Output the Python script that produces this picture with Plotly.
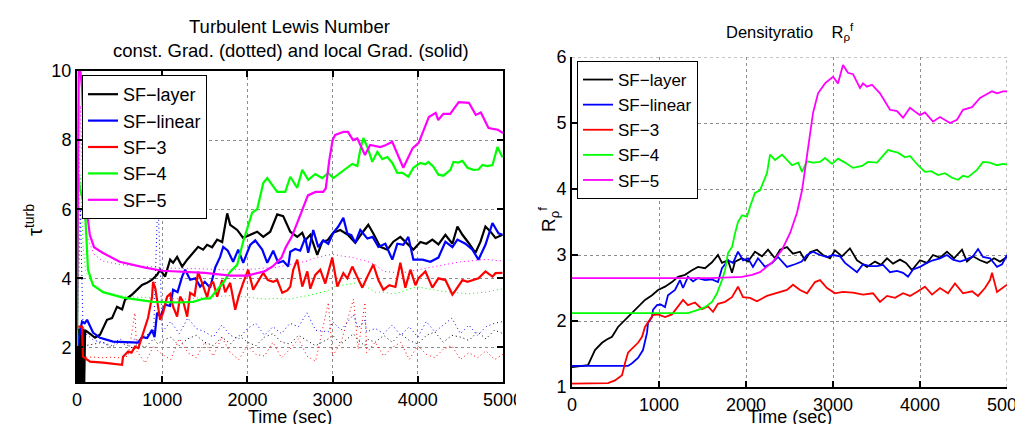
import plotly.graph_objects as go

W, H = 1015, 424
def px(x): return x / W
def py(y): return 1 - y / H

FONT = "Liberation Sans, Arial, Helvetica, sans-serif"
BLACK, BLUE, RED, GREEN, MAGENTA = "#000000", "#0000FF", "#FF0000", "#00FF00", "#FF00FF"
names = ["SF\u2212layer", "SF\u2212linear", "SF\u22123", "SF\u22124", "SF\u22125"]

# ---------------- Left panel: turbulent Lewis number (local gradient, solid) ----------------
L_layer_t = [0, 15, 25, 35, 45, 55, 65, 75, 85, 95, 150, 212, 270, 352, 411, 470, 530, 564, 646, 705, 763, 822, 881, 940, 975,
             1034, 1093, 1128, 1175, 1234, 1293, 1363, 1422, 1480, 1527, 1586, 1645, 1704, 1763, 1798, 1880, 1950, 2033, 2115,
             2186, 2268, 2350, 2420, 2503, 2585, 2644, 2680, 2738, 2820, 2879, 2940, 3008, 3090, 3184, 3266, 3349, 3419, 3478,
             3560, 3643, 3713, 3795, 3877, 3948, 4030, 4100, 4171, 4242, 4324, 4406, 4465, 4524, 4595, 4677, 4736, 4794, 4853,
             4912, 4994]
L_layer_v = [1.0, 2.55, 1.0, 2.55, 1.0, 2.55, 1.0, 2.55, 1.0, 2.5, 2.4, 2.28, 2.37, 2.8, 2.85, 3.18, 3.1, 3.38, 3.53, 3.67, 3.81,
             3.87, 3.96, 4.1, 4.25, 4.05, 4.54, 4.45, 4.62, 4.34, 4.54, 4.74, 4.91, 4.83, 4.97, 4.9, 5.12, 5.05, 5.88, 5.55, 5.4,
             5.17, 5.26, 5.35, 5.2, 5.35, 5.85, 5.8, 5.35, 5.2, 5.32, 5.1, 5.26, 4.68, 5.06, 5.1, 5.32, 5.4, 5.25, 5.03, 5.32,
             5.55, 5.3, 4.91, 4.83, 5.06, 5.2, 5.0, 4.83, 5.05, 5.0, 5.12, 4.98, 5.26, 5.0, 5.5, 5.26, 5.03, 4.74, 5.06, 5.5,
             5.35, 5.17, 5.26]

L_linear_t = [0, 30, 59, 90, 118, 188, 270, 423, 623, 717, 764, 823, 881, 910, 940, 980, 1034, 1093, 1128, 1180, 1234, 1269,
              1328, 1390, 1445, 1500, 1563, 1622, 1680, 1716, 1770, 1833, 1892, 1951, 2033, 2092, 2174, 2233, 2303, 2362, 2421,
              2479, 2503, 2562, 2620, 2679, 2714, 2773, 2832, 2890, 2949, 3008, 3067, 3126, 3173, 3220, 3267, 3325, 3408, 3470,
              3537, 3619, 3701, 3760, 3831, 3889, 3948, 4054, 4148, 4242, 4324, 4406, 4465, 4559, 4641, 4712, 4794, 4876, 4947,
              4994]
L_linear_v = [2.0, 2.4, 2.75, 2.7, 2.8, 2.43, 2.28, 2.17, 2.14, 2.14, 2.3, 2.27, 2.51, 2.3, 3.0, 2.9, 3.24, 3.2, 3.67, 3.6, 4.05,
              4.25, 3.96, 4.0, 3.76, 3.9, 3.73, 4.31, 4.62, 4.91, 4.8, 4.48, 4.83, 4.45, 4.97, 5.1, 4.83, 4.45, 4.8, 4.45, 4.5,
              4.34, 4.77, 4.85, 4.8, 5.17, 4.74, 5.4, 4.9, 5.1, 5.0, 5.32, 5.5, 5.75, 5.3, 5.25, 5.03, 5.4, 5.15, 5.2, 4.91, 5.0,
              4.54, 5.0, 4.97, 5.2, 4.54, 4.54, 4.48, 4.6, 5.06, 4.9, 5.12, 5.0, 4.83, 4.54, 4.97, 5.6, 5.3, 5.26]

L_sf3_t = [0, 59, 70, 153, 306, 529, 540, 600, 640, 681, 720, 764, 799, 834, 881, 893, 920, 952, 975, 1010, 1058, 1093, 1128,
           1175, 1210, 1250, 1293, 1328, 1380, 1422, 1469, 1528, 1560, 1598, 1645, 1704, 1740, 1798, 1857, 1900, 1951, 2009,
           2068, 2127, 2186, 2240, 2303, 2350, 2409, 2468, 2503, 2538, 2585, 2644, 2703, 2738, 2797, 2855, 2914, 2996, 3055,
           3126, 3173, 3231, 3290, 3349, 3408, 3478, 3537, 3596, 3666, 3737, 3795, 3854, 3913, 3972, 4007, 4089, 4171, 4242,
           4324, 4406, 4442, 4524, 4583, 4641, 4712, 4794, 4876, 4912, 4994]
L_sf3_v = [2.6, 2.6, 1.73, 1.59, 1.56, 1.5, 1.73, 1.88, 1.85, 2.02, 1.98, 2.31, 2.57, 2.86, 3.47, 3.9, 3.7, 3.18, 2.8, 3.0, 3.47,
           3.55, 3.18, 2.89, 3.47, 3.3, 2.89, 3.58, 3.5, 4.19, 3.85, 3.45, 3.8, 3.9, 3.47, 3.95, 3.6, 3.87, 3.09, 3.5, 3.87,
           4.25, 3.67, 3.9, 4.16, 3.95, 3.9, 3.95, 3.58, 3.65, 3.76, 4.25, 4.54, 3.76, 4.2, 3.7, 4.1, 4.25, 3.85, 4.6, 3.76,
           4.15, 4.0, 4.34, 4.05, 3.73, 4.05, 4.4, 3.95, 3.67, 3.8, 3.75, 4.45, 3.73, 4.25, 3.8, 4.0, 4.2, 3.73, 4.0, 3.95,
           3.53, 3.65, 3.95, 3.9, 3.95, 4.0, 4.2, 4.05, 4.15, 4.16]

L_sf4_t = [0, 15, 35, 94, 110, 129, 188, 306, 540, 893, 1210, 1363, 1480, 1563, 1645, 1716, 1798, 1880, 1950, 2056, 2115, 2186,
           2233, 2350, 2444, 2503, 2585, 2644, 2714, 2797, 2879, 2949, 3008, 3090, 3173, 3231, 3290, 3325, 3361, 3408, 3466,
           3525, 3584, 3643, 3701, 3760, 3819, 3889, 3948, 4030, 4089, 4124, 4183, 4242, 4301, 4383, 4418, 4477, 4524, 4583,
           4653, 4712, 4759, 4818, 4876, 4935, 4994]
L_sf4_v = [2.0, 7.0, 6.6, 6.0, 5.2, 4.25, 3.8, 3.6, 3.44, 3.32, 3.3, 3.32, 3.41, 3.42, 3.67, 3.87, 4.19, 4.39, 5.06, 5.9, 6.0,
           6.76, 6.9, 6.5, 6.5, 6.94, 6.62, 7.14, 6.85, 7.02, 6.9, 7.05, 6.9, 7.05, 7.2, 7.31, 7.25, 7.72, 8.06, 7.8, 7.37,
           7.66, 7.45, 7.51, 7.34, 7.05, 7.05, 6.94, 7.2, 7.34, 7.3, 7.37, 7.23, 7.0, 6.97, 7.14, 7.37, 7.35, 7.4, 7.2, 7.14,
           7.15, 7.28, 7.25, 7.28, 7.8, 7.5]

L_sf5_t = [0, 20, 40, 60, 80, 110, 150, 200, 300, 500, 800, 1000, 1500, 1800, 2000, 2200, 2300, 2400, 2450, 2520, 2600, 2710,
           2800, 2890, 2920, 2960, 3000, 3030, 3130, 3180, 3240, 3290, 3380, 3440, 3560, 3620, 3700, 3830, 3940, 4010, 4130,
           4210, 4240, 4300, 4380, 4480, 4600, 4680, 4740, 4830, 4940, 5000]
L_sf5_v = [2.5, 10.0, 10.0, 9.5, 8.0, 6.1, 5.26, 4.9, 4.74, 4.48, 4.31, 4.22, 4.16, 4.08, 4.08, 4.2, 4.35, 4.6, 4.9, 5.2, 5.7,
           6.4, 6.5, 6.5, 6.6, 7.4, 8.0, 8.15, 8.24, 8.24, 8.0, 8.05, 7.57, 7.86, 7.8, 7.85, 7.95, 7.2, 7.77, 7.92, 8.67, 8.79,
           8.58, 8.76, 8.76, 9.1, 9.08, 8.73, 8.8, 8.35, 8.3, 8.2]

# ---------------- Left panel: constant gradient (dotted) ----------------
D_t = [0, 40, 70, 100, 200, 300, 400, 500, 600, 680, 700, 800, 900, 950, 1000, 1100, 1200, 1300, 1400, 1500, 1600, 1700, 1800,
       1900, 2000, 2100, 2200, 2300, 2400, 2500, 2600, 2700, 2800, 2950, 3000, 3100, 3245, 3300, 3380, 3400, 3500, 3600, 3700,
       3800, 3900, 4000, 4100, 4200, 4300, 4400, 4500, 4600, 4700, 4800, 4900, 5000]
D_layer_v = [1.0, 2.0, 2.1, 2.05, 2.1, 2.15, 2.0, 2.15, 2.05, 1.95, 2.1, 2.0, 2.25, 2.1, 2.2, 2.3, 2.05, 2.25, 2.35, 2.15, 2.05,
             2.3, 2.1, 2.35, 2.15, 2.05, 2.3, 2.4, 2.15, 2.1, 2.35, 2.2, 2.05, 2.25, 2.35, 2.1, 2.4, 2.2, 2.05, 2.25, 2.15, 2.35,
             2.15, 2.4, 2.2, 2.1, 2.35, 2.45, 2.15, 2.35, 2.3, 2.2, 2.45, 2.25, 2.5, 2.4]
D_linear_v = [2.0, 6.0, 2.6, 2.4, 2.2, 2.15, 2.05, 2.25, 2.1, 2.25, 2.2, 2.35, 2.45, 6.4, 2.45, 2.75, 2.4, 2.85, 2.55, 2.45,
              2.3, 2.65, 2.35, 2.25, 2.55, 2.7, 2.35, 2.6, 2.4, 2.7, 2.6, 3.0, 2.5, 2.45, 2.75, 2.5, 2.95, 2.55, 2.8, 2.45,
              2.55, 2.4, 2.65, 2.35, 2.6, 2.3, 2.75, 2.45, 2.65, 2.85, 2.4, 2.65, 2.35, 2.6, 2.7, 2.75]
D_sf3_v = [2.5, 1.75, 1.73, 1.72, 1.72, 1.7, 1.72, 1.7, 1.75, 3.0, 1.9, 1.55, 2.05, 1.9, 1.8, 1.65, 2.25, 1.85, 1.7, 2.15,
           1.75, 2.3, 1.85, 1.65, 2.05, 1.8, 1.75, 2.15, 1.7, 1.95, 2.25, 1.75, 1.6, 3.3, 1.75, 2.15, 3.4, 1.95, 3.3, 1.85,
           2.15, 1.75, 2.0, 2.15, 1.65, 2.05, 1.8, 1.7, 1.95, 2.05, 1.65, 1.85, 1.7, 1.9, 1.65, 1.8]
D_sf4_v = [2.0, 7.0, 5.0, 4.2, 3.8, 3.6, 3.55, 3.5, 3.48, 3.45, 3.45, 3.45, 3.42, 3.4, 3.4, 3.42, 3.4, 3.4, 3.43, 3.45, 3.45,
           3.47, 3.5, 3.48, 3.45, 3.42, 3.4, 3.42, 3.4, 3.4, 3.45, 3.5, 3.55, 3.65, 3.75, 3.8, 3.85, 3.9, 3.8, 3.75, 3.6, 3.6,
           3.55, 3.6, 3.7, 3.75, 3.7, 3.65, 3.62, 3.6, 3.58, 3.55, 3.58, 3.6, 3.65, 3.7]
D_sf5_v = [2.0, 9.0, 6.5, 5.3, 4.7, 4.5, 4.45, 4.4, 4.38, 4.37, 4.36, 4.35, 4.33, 4.32, 4.3, 4.3, 4.3, 4.3, 4.28, 4.27, 4.25,
           4.25, 4.25, 4.25, 4.25, 4.27, 4.3, 4.3, 4.35, 4.4, 4.45, 4.5, 4.6, 4.68, 4.7, 4.65, 4.6, 4.55, 4.5, 4.5, 4.4, 4.2,
           4.18, 4.15, 4.2, 4.25, 4.3, 4.35, 4.4, 4.45, 4.48, 4.5, 4.52, 4.55, 4.52, 4.5]

# ---------------- Right panel: density ratio ----------------
R_layer_t = [0, 184, 264, 345, 400, 460, 529, 609, 690, 759, 839, 920, 989, 1069, 1149, 1218, 1299, 1379, 1448, 1529, 1609,
             1678, 1724, 1793, 1839, 1874, 1954, 2023, 2103, 2184, 2253, 2333, 2391, 2471, 2540, 2621, 2678, 2736, 2816, 2885,
             2966, 3023, 3103, 3195, 3276, 3391, 3483, 3552, 3621, 3690, 3770, 3839, 3908, 4000, 4080, 4149, 4230, 4310, 4391,
             4483, 4540, 4609, 4690, 4770, 4851, 4920, 5000]
R_layer_v = [1.3, 1.33, 1.56, 1.67, 1.72, 1.76, 1.91, 2.02, 2.12, 2.21, 2.32, 2.39, 2.47, 2.52, 2.59, 2.67, 2.7, 2.77, 2.82, 2.8,
             2.89, 3.0, 2.88, 2.92, 2.73, 2.9, 2.95, 2.9, 3.05, 2.98, 3.08, 2.95, 3.08, 3.12, 3.02, 3.05, 2.92, 3.04, 3.08, 3.0,
             2.95, 3.07, 2.98, 3.1, 2.92, 2.82, 2.9, 2.85, 2.95, 2.87, 2.93, 2.88, 2.77, 2.92, 2.88, 3.0, 2.96, 3.05, 2.95,
             3.08, 2.9, 2.98, 2.92, 2.88, 2.95, 2.9, 2.97]

R_linear_t = [0, 644, 690, 759, 816, 862, 874, 920, 931, 977, 1020, 1069, 1103, 1184, 1241, 1276, 1333, 1391, 1448, 1529, 1609,
              1678, 1724, 1793, 1851, 1908, 1966, 2023, 2080, 2138, 2218, 2299, 2368, 2471, 2563, 2640, 2701, 2770, 2851, 2931,
              3000, 3080, 3138, 3195, 3276, 3345, 3425, 3506, 3575, 3655, 3736, 3805, 3862, 3920, 4000, 4080, 4149, 4230, 4310,
              4379, 4460, 4529, 4609, 4667, 4724, 4805, 4885, 4943, 5000]
R_linear_v = [1.32, 1.32, 1.36, 1.44, 1.56, 1.82, 1.97, 2.06, 2.17, 2.24, 2.25, 2.21, 2.39, 2.47, 2.62, 2.5, 2.67, 2.6, 2.65,
              2.62, 2.63, 2.59, 2.8, 2.92, 2.88, 3.05, 2.92, 2.95, 2.82, 2.95, 2.82, 2.88, 2.97, 2.82, 2.86, 2.9, 3.0, 3.05,
              3.0, 2.97, 3.0, 2.98, 2.88, 2.82, 2.74, 2.86, 2.83, 2.83, 2.85, 2.74, 2.76, 2.73, 2.67, 2.78, 2.82, 2.88, 2.92,
              2.95, 3.0, 2.93, 2.9, 2.93, 2.98, 3.09, 2.97, 2.95, 2.82, 2.86, 3.0]

R_sf3_t = [0, 414, 494, 575, 609, 644, 690, 759, 805, 839, 874, 931, 989, 1069, 1149, 1218, 1276, 1333, 1414, 1494, 1563, 1621,
           1678, 1759, 1839, 1908, 1966, 2046, 2126, 2241, 2356, 2471, 2540, 2621, 2701, 2793, 2851, 2931, 3023, 3115, 3230,
           3345, 3460, 3540, 3621, 3713, 3805, 3885, 3977, 4057, 4138, 4230, 4322, 4402, 4494, 4598, 4667, 4747, 4805, 4828,
           4885, 4943, 5000]
R_sf3_v = [1.05, 1.06, 1.1, 1.18, 1.36, 1.52, 1.58, 1.67, 1.76, 1.91, 1.98, 2.09, 2.1, 2.06, 2.1, 2.21, 2.32, 2.24, 2.28, 2.18,
           2.22, 2.14, 2.26, 2.29, 2.36, 2.52, 2.36, 2.35, 2.3, 2.38, 2.42, 2.47, 2.55, 2.47, 2.42, 2.59, 2.62, 2.5, 2.42,
           2.44, 2.43, 2.4, 2.42, 2.29, 2.38, 2.35, 2.42, 2.38, 2.45, 2.52, 2.4, 2.5, 2.42, 2.57, 2.42, 2.45, 2.38, 2.5,
           2.62, 2.73, 2.44, 2.5, 2.55]

R_sf4_t = [0, 1333, 1448, 1529, 1609, 1667, 1724, 1759, 1793, 1839, 1874, 1908, 1954, 2011, 2046, 2103, 2161, 2195, 2241, 2276,
           2333, 2414, 2471, 2529, 2600, 2644, 2701, 2770, 2851, 2908, 2989, 3057, 3138, 3230, 3333, 3402, 3506, 3632, 3690,
           3747, 3828, 3885, 3977, 4057, 4130, 4207, 4287, 4368, 4437, 4494, 4552, 4655, 4724, 4805, 4885, 4954, 5000]
R_sf4_v = [2.12, 2.12, 2.17, 2.21, 2.29, 2.42, 2.62, 2.77, 3.03, 3.12, 3.33, 3.5, 3.6, 3.58, 3.73, 3.94, 3.98, 4.1, 4.24, 4.52,
           4.44, 4.52, 4.44, 4.36, 4.4, 4.26, 4.42, 4.4, 4.41, 4.47, 4.38, 4.46, 4.4, 4.32, 4.35, 4.41, 4.4, 4.59, 4.57,
           4.55, 4.48, 4.5, 4.36, 4.26, 4.27, 4.21, 4.24, 4.17, 4.14, 4.2, 4.18, 4.29, 4.41, 4.4, 4.36, 4.38, 4.37]

R_sf5_t = [0, 1600, 1954, 2069, 2161, 2218, 2310, 2414, 2506, 2586, 2644, 2678, 2713, 2736, 2770, 2828, 2908, 3000, 3057, 3115,
           3172, 3230, 3310, 3345, 3391, 3448, 3540, 3655, 3736, 3805, 3885, 3966, 4000, 4057, 4149, 4230, 4345, 4425, 4494,
           4598, 4690, 4828, 4885, 4954, 5000]
R_sf5_v = [2.65, 2.65, 2.67, 2.7, 2.74, 2.8, 2.9, 3.08, 3.33, 3.64, 3.98, 4.29, 4.64, 4.85, 5.15, 5.45, 5.6, 5.7, 5.6, 5.88,
           5.76, 5.74, 5.53, 5.6, 5.55, 5.58, 5.45, 5.2, 5.18, 5.08, 5.23, 5.15, 5.12, 5.16, 5.02, 5.09, 5.0, 5.05, 5.2, 5.24,
           5.38, 5.48, 5.45, 5.48, 5.48]

x_ticks = [0, 1000, 2000, 3000, 4000, 5000]
left_y_ticks = [2, 4, 6, 8, 10]
right_y_ticks = [1, 2, 3, 4, 5, 6]
X_MAX, RIGHT_Y_MAX = 5000, 6

colors = [BLACK, BLUE, RED, GREEN, MAGENTA]

fig = go.Figure()

# dotted (constant gradient) first, beneath the solid lines
for v, c in zip([D_layer_v, D_linear_v, D_sf3_v, D_sf4_v, D_sf5_v], colors):
    fig.add_trace(go.Scatter(x=D_t, y=v, mode="lines", line=dict(color=c, width=1, dash="1px,3px"),
                             showlegend=False, xaxis="x", yaxis="y", hoverinfo="skip"))

left_series = [(L_layer_t, L_layer_v), (L_linear_t, L_linear_v), (L_sf3_t, L_sf3_v), (L_sf4_t, L_sf4_v), (L_sf5_t, L_sf5_v)]
for (t, v), c, n in zip(left_series, colors, names):
    fig.add_trace(go.Scatter(x=t, y=v, mode="lines", name=n, line=dict(color=c, width=2.2),
                             xaxis="x", yaxis="y", legend="legend"))

right_series = [(R_layer_t, R_layer_v), (R_linear_t, R_linear_v), (R_sf3_t, R_sf3_v), (R_sf4_t, R_sf4_v), (R_sf5_t, R_sf5_v)]
for (t, v), c, n in zip(right_series, colors, names):
    fig.add_trace(go.Scatter(x=t, y=v, mode="lines", name=n, line=dict(color=c, width=1.8),
                             xaxis="x2", yaxis="y2", legend="legend2"))

GRID = "#8c8c8c"
tickfont = dict(family=FONT, size=18, color="black")
common = dict(showgrid=True, gridcolor=GRID, griddash="dot", gridwidth=1, zeroline=False, automargin=False,
              showline=True, linecolor="black", linewidth=2, ticks="inside", ticklen=6, tickwidth=1.5,
              tickcolor="black", tickfont=tickfont)

fig.update_layout(
    width=W, height=H, margin=dict(l=0, r=0, t=0, b=0, autoexpand=False),
    paper_bgcolor="white", plot_bgcolor="white",
    font=dict(family=FONT, color="black"),
    xaxis=dict(domain=[px(77), px(503)], range=[0, X_MAX], tickvals=x_ticks, ticktext=[str(v) for v in x_ticks],
               anchor="y", mirror="ticks", ticklabeloverflow="allow", **common),
    yaxis=dict(domain=[py(382), py(71)], range=[1, 10], tickvals=left_y_ticks, anchor="x", mirror="ticks", **common),
    xaxis2=dict(domain=[px(572), px(1007)], range=[0, X_MAX], tickvals=x_ticks, ticktext=[str(v) for v in x_ticks],
                anchor="y2", ticklabeloverflow="allow", **common),
    yaxis2=dict(domain=[py(387), py(57)], range=[1, RIGHT_Y_MAX], tickvals=right_y_ticks, anchor="x2",
                ticklabeloverflow="allow", **common),
    legend=dict(x=px(82), y=py(75), xanchor="left", yanchor="top", bgcolor="white", bordercolor="black",
                borderwidth=1, font=dict(family=FONT, size=18, color="black"), tracegroupgap=0, itemwidth=30),
    legend2=dict(x=px(577), y=py(61), xanchor="left", yanchor="top", bgcolor="white", bordercolor="black",
                 borderwidth=1, font=dict(family=FONT, size=17, color="black"), tracegroupgap=0, itemwidth=30),
    shapes=[
        # grid lines on the open (box-off) edges of the right panel
        dict(type="line", xref="x2", yref="y2", x0=X_MAX, x1=X_MAX, y0=1, y1=RIGHT_Y_MAX,
             line=dict(color=GRID, width=1, dash="dot"), layer="below"),
        dict(type="line", xref="x2", yref="y2", x0=0, x1=X_MAX, y0=RIGHT_Y_MAX, y1=RIGHT_Y_MAX,
             line=dict(color=GRID, width=1, dash="dot"), layer="below"),
        # the reference image is cropped just right of the left panel, cutting its last tick label
        dict(type="rect", xref="paper", yref="paper", x0=px(516), x1=px(534), y0=py(412), y1=py(386),
             fillcolor="white", line=dict(width=0), layer="above"),
    ],
    annotations=[
        dict(text="Turbulent Lewis Number", x=px(289), y=py(27), xref="paper", yref="paper", showarrow=False,
             font=dict(size=18.5, family=FONT), xanchor="center", yanchor="middle"),
        dict(text="const. Grad. (dotted) and local Grad. (solid)", x=px(291), y=py(50), xref="paper", yref="paper",
             showarrow=False, font=dict(size=18.5, family=FONT), xanchor="center", yanchor="middle"),
        dict(text="Densityratio    R<sub>\u03c1</sub><sup>f</sup>", x=px(790), y=py(32), xref="paper", yref="paper",
             showarrow=False, font=dict(size=16.5, family=FONT), xanchor="center", yanchor="middle"),
        dict(text="Time (sec)", x=px(290), y=py(417), xref="paper", yref="paper", showarrow=False,
             font=dict(size=18, family=FONT), xanchor="center", yanchor="middle"),
        dict(text="Time (sec)", x=px(790), y=py(417), xref="paper", yref="paper", showarrow=False,
             font=dict(size=18, family=FONT), xanchor="center", yanchor="middle"),
        dict(text="\u03c4<sup>turb</sup>", x=px(33), y=py(220), xref="paper", yref="paper", showarrow=False,
             textangle=-90, font=dict(size=20, family=FONT), xanchor="center", yanchor="middle"),
        dict(text="R<sub>\u03c1</sub><sup>f</sup>", x=px(548), y=py(220), xref="paper", yref="paper", showarrow=False,
             textangle=-90, font=dict(size=19, family=FONT), xanchor="center", yanchor="middle"),
    ],
)

fig.write_html("out.html")
